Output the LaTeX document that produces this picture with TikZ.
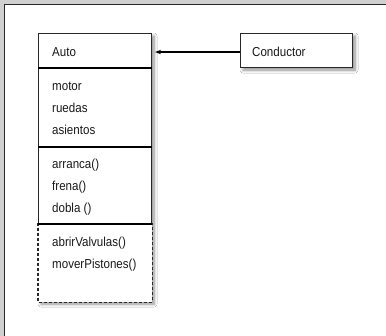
\documentclass[tikz,border=0pt]{standalone}
\usepackage{fontspec}
\setmainfont{Liberation Sans}[FakeStretch=0.89]
\usetikzlibrary{arrows.meta,shadows.blur}

\definecolor{framegray}{RGB}{208,208,208}
\definecolor{lineDark}{RGB}{40,40,40}

\tikzset{
  part/.style={draw=lineDark, line width=1.1pt, fill=white, inner sep=0pt,
    minimum width=113pt, anchor=north west},
  sep/.style={draw=black, line width=1.5pt},
  lbl/.style={anchor=base west, inner sep=0pt, text=black!90,
    font=\fontsize{13}{15}\selectfont},
  softshadow/.style={blur shadow={shadow xshift=2.5pt, shadow yshift=-2.5pt,
    shadow blur steps=8, shadow blur radius=3pt, shadow opacity=45}},
  assoc/.style={-{Stealth[length=6pt,width=4.5pt]}, line width=1.4pt, black,
    shorten >=3pt},
}

\begin{document}
\begin{tikzpicture}[x=1pt,y=-1pt]
  \useasboundingbox (0,0) rectangle (386,336);

  % page frame: grey band along the top and left edges
  \fill[framegray] (0,0) rectangle (386,336);
  \fill[white] (4.5,5) rectangle (386,336);
  \draw[lineDark, line width=1.4pt] (4.2,336) -- (4.2,4.7) -- (386,4.7);

  % backing of the whole class box, carrying its shadow
  \node[part, draw=none, softshadow, minimum height=268pt] (autoback) at (38,33) {};

  % class compartments
  \node[part, minimum height=34pt] (autohead) at (38,33) {};
  \node[part, minimum height=79pt] (autoattr) at (38,67) {};
  \node[part, minimum height=77pt] (autoops) at (38,146) {};
  \node[part, draw=none, minimum height=78pt] (autopriv) at (38,223) {};
  \draw[lineDark, line width=1.1pt, dash pattern=on 3pt off 2pt]
    (autopriv.north west) -- (autopriv.south west) -- (autopriv.south east)
    -- (autopriv.north east);

  % compartment separators
  \draw[sep] (autohead.south west) -- (autohead.south east);
  \draw[sep] (autoattr.south west) -- (autoattr.south east);
  \draw[sep] (autoops.south west) -- (autoops.south east);

  % class texts
  \node[lbl] (tauto) at (52,56.5) {Auto};
  \node[lbl] (tmotor) at (52,90.5) {motor};
  \node[lbl] (truedas) at (52,112.5) {ruedas};
  \node[lbl] (tasientos) at (52,134.5) {asientos};
  \node[lbl] (tarranca) at (52,168.5) {arranca()};
  \node[lbl] (tfrena) at (52,190.5) {frena()};
  \node[lbl] (tdobla) at (52,212.5) {dobla ()};
  \node[lbl] (tabrir) at (52,246.5) {abrirValvulas()};
  \node[lbl] (tmover) at (52,268.5) {moverPistones()};

  % the other class
  \node[part, softshadow, minimum width=112pt, minimum height=34pt] (conductor) at (240,33) {};
  \node[lbl] (tconductor) at (252,57) {Conductor};

  % association
  \draw[assoc] ([yshift=-1.5pt]conductor.west) -- ([yshift=-1.5pt]autohead.east);
\end{tikzpicture}
\end{document}
